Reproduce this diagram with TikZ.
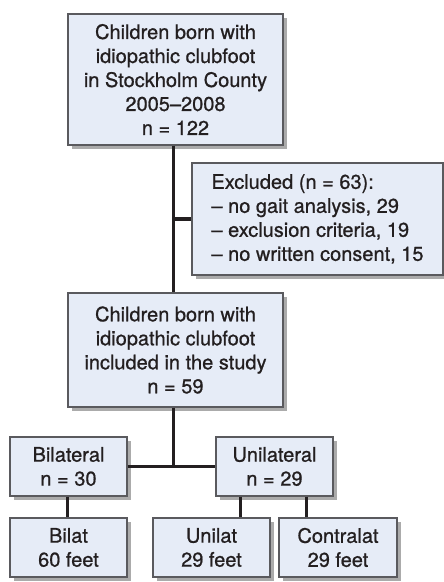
\documentclass[tikz,border=0pt]{standalone}
\usepackage{fontspec}
\setmainfont{TeX Gyre Heros}
\newfontfamily\boxfont{TeX Gyre Heros}[Ligatures=TeX, FakeBold=0.8]
\usetikzlibrary{shadows}
\definecolor{boxfill}{HTML}{E6ECF7}
\definecolor{boxline}{HTML}{5A5A5E}
\definecolor{linkline}{HTML}{231F20}

\begin{document}
\begin{tikzpicture}[
x=1pt, y=-1pt,
flowbox/.style={rectangle, draw=boxline, line width=1.2pt, fill=boxfill, align=center,
  text=linkline, font=\boxfont\fontsize{20}{24}\selectfont, inner sep=2pt,
  drop shadow={shadow xshift=4pt, shadow yshift=-4pt, fill=black!60, opacity=0.55}},
link/.style={draw=linkline, line width=3.6pt}
]
\useasboundingbox (0,0) rectangle (444,582);

\node[flowbox, minimum width=215pt, minimum height=131pt] at (175.5, 79.5) (born) {Children born with\\idiopathic clubfoot\\in Stockholm County\\2005--2008\\n = 122};
\node[flowbox, minimum width=251pt, minimum height=112pt, align=left] at (317.5, 219) (excl) {Excluded (n = 63):\\-- no gait analysis, 29\\-- exclusion criteria, 19\\-- no written consent, 15};
\node[flowbox, minimum width=215pt, minimum height=114pt] at (175.5, 350) (study) {Children born with\\idiopathic clubfoot\\included in the study\\n = 59};
\node[flowbox, minimum width=117pt, minimum height=59pt] at (68.5, 466.5) (bil) {Bilateral\\n = 30};
\node[flowbox, minimum width=117pt, minimum height=59pt] at (274.5, 466.5) (uni) {Unilateral\\n = 29};
\node[flowbox, minimum width=117pt, minimum height=59pt] at (68.5, 547.5) (bilfeet) {Bilat\\60 feet};
\node[flowbox, minimum width=117pt, minimum height=59pt] at (211.5, 547.5) (unifeet) {Unilat\\29 feet};
\node[flowbox, minimum width=118pt, minimum height=59pt] at (338, 547.5) (confeet) {Contralat\\29 feet};

\coordinate (trunk) at ([xshift=-2pt]born.south);
\coordinate (split) at ([xshift=-2pt]study.south);
\draw[link] (trunk) -- (trunk |- study.north);
\draw[link] (excl.west) -- (excl.west -| trunk);
\draw[link] (split) -- (split |- bil.east);
\draw[link] (bil.east) -- (uni.west);
\draw[link] ([xshift=-1pt]bil.south) -- ([xshift=-1pt]bilfeet.north);
\draw[link] ([xshift=25pt]uni.south west) -- ([xshift=25pt]uni.south west |- unifeet.north);
\draw[link] ([xshift=-27pt]uni.south east) -- ([xshift=-27pt]uni.south east |- confeet.north);
\end{tikzpicture}
\end{document}
